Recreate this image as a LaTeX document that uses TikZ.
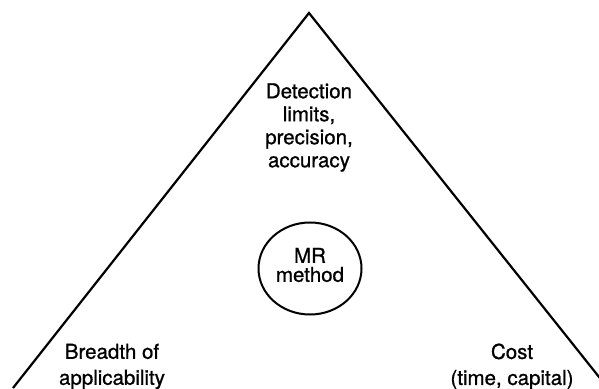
\documentclass[tikz,border=0pt]{standalone}
\usepackage{fontspec}
\setmainfont{TeX Gyre Heros}[FakeBold=0.9]
\usetikzlibrary{shapes.geometric}
\begin{document}
\begin{tikzpicture}[x=1pt,y=1pt,
  lbl/.style={align=center,inner sep=0pt,font=\fontsize{20.5}{23}\selectfont},
  lblwide/.style={align=center,inner sep=0pt,font=\fontsize{20.5}{26}\selectfont},
  edge/.style={line width=2.2pt,line join=miter}]
\useasboundingbox (0,0) rectangle (599,388);
\clip (0,0) rectangle (599,388);
\coordinate (apex) at (309,375);
\coordinate (bl) at (13,0);
\coordinate (br) at (607,1);
\draw[edge] (bl) -- (apex) -- (br);
\node[lbl] (top) at (309,260.5) {Detection\\limits,\\precision,\\accuracy};
\node[draw,line width=2pt,ellipse,minimum width=103pt,minimum height=92pt,inner sep=0pt] (mr) at (310,119.5) {};
\node[align=center,inner sep=0pt,font=\fontsize{20.5}{19}\selectfont] (mrtext) at (310,123) {MR\\method};
\node[lblwide] (breadth) at (112,21.5) {Breadth of\\applicability};
\node[lblwide] (cost) at (512,21.5) {Cost\\(time, capital)};
\end{tikzpicture}
\end{document}
